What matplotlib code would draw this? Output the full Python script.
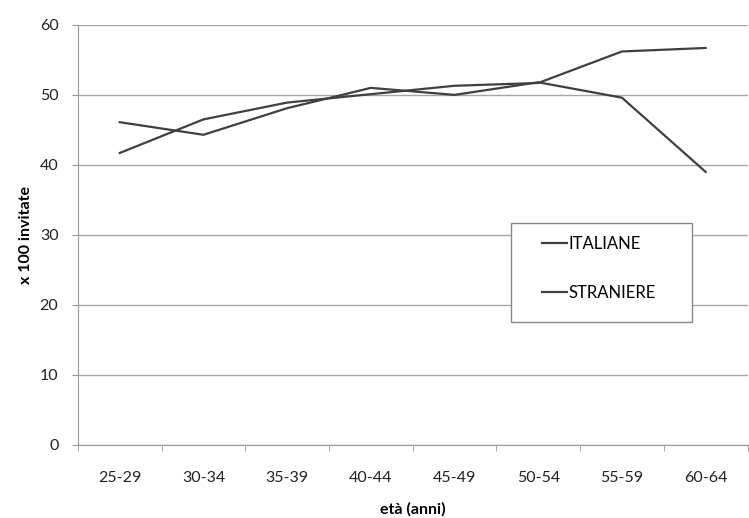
import matplotlib.pyplot as plt
from matplotlib.patches import Rectangle

plt.rcParams['font.family'] = ['Lato', 'DejaVu Sans']

# age classes and values (x 100 invited women)
classi = ["25-29", "30-34", "35-39", "40-44", "45-49", "50-54", "55-59", "60-64"]
italiane = [41.7, 46.5, 48.9, 50.1, 51.3, 51.7, 56.2, 56.7]
straniere = [46.1, 44.3, 48.1, 51.0, 50.0, 51.8, 49.6, 39.0]

fig = plt.figure(figsize=(7.49, 5.18), dpi=100)
ax = fig.add_axes([0.104, 0.141, 0.894, 0.811])

x = list(range(len(classi)))
ax.plot(x, italiane, color='#404040', lw=1.6, label='ITALIANE')
ax.plot(x, straniere, color='#404040', lw=1.6, label='STRANIERE')

ax.set_xlim(-0.5, len(classi) - 0.5)
ax.set_ylim(0, 60)
ax.set_yticks(range(0, 61, 10))
ax.set_xticks(x)
ax.set_xticklabels(classi)
ax.set_xticks([i + 0.5 for i in range(-1, len(classi))], minor=True)
ax.tick_params(axis='x', which='major', length=0, pad=19, labelsize=11.5, colors='#222222')
ax.tick_params(axis='x', which='minor', length=4, color='#999999')
ax.tick_params(axis='y', length=4, color='#999999', labelsize=11.5, colors='#222222', pad=10)

ax.grid(axis='y', color='#a6a6a6', lw=1)
ax.set_axisbelow(True)
for s in ['top', 'right']:
    ax.spines[s].set_visible(False)
ax.spines['left'].set_color('#999999')
ax.spines['bottom'].set_color('#999999')

ax.set_xlabel('età (anni)', fontweight='bold', fontsize=11.5, labelpad=12)
ax.set_ylabel('x 100 invitate', fontweight='bold', fontsize=11.5, labelpad=5)

# legend box drawn separately so it can be wider than its content
ax.add_patch(Rectangle((0.647, 0.293), 0.27, 0.236, transform=ax.transAxes,
                       facecolor='white', edgecolor='#888888', lw=1, zorder=4))
leg = ax.legend(loc='upper left', bbox_to_anchor=(0.693, 0.497), fontsize=12,
                handlelength=1.5, handletextpad=0.1, labelspacing=1.95,
                borderpad=0, frameon=False, borderaxespad=0)
leg.set_zorder(5)

plt.savefig('out.png')
